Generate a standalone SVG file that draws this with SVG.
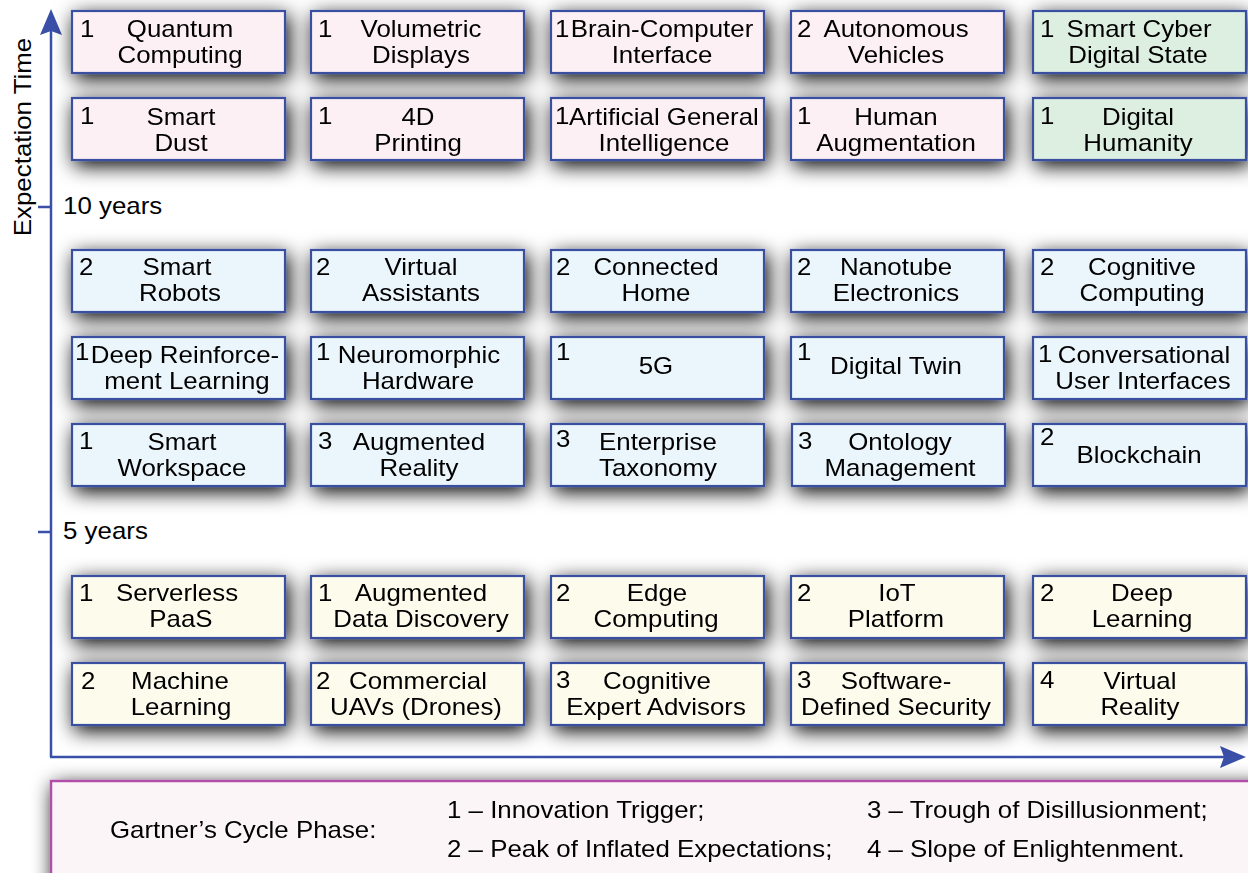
<svg xmlns="http://www.w3.org/2000/svg" width="1248" height="873" viewBox="0 0 1248 873">
<defs>
<filter id="sh" x="-25%" y="-60%" width="150%" height="230%">
<feGaussianBlur in="SourceAlpha" stdDeviation="10"/>
<feOffset dx="3" dy="5" result="b"/>
<feComponentTransfer><feFuncA type="linear" slope="1"/></feComponentTransfer>
<feMerge><feMergeNode/><feMergeNode in="SourceGraphic"/></feMerge>
</filter>
</defs>
<style>
text{font-family:"Liberation Sans",Arial,sans-serif;font-size:23px;fill:#000;transform-box:fill-box;transform-origin:left center;transform:scaleX(1.125)}
text.c{text-anchor:middle;transform-origin:center center}
.b rect{stroke:#3b4fa0;stroke-width:2.2}
.p rect{fill:#fdf0f4}
.g rect{fill:#dcefe0}
.u rect{fill:#eaf5fc}
.y rect{fill:#fcfbec}
.ax{stroke:#3a4fa8;stroke-width:2.5;fill:none}
</style>
<rect width="1248" height="873" fill="#ffffff"/>

<g id="axes">
<line class="ax" x1="51" y1="757" x2="51" y2="30"/>
<path d="M51,9 L62,35 L51,31 L40,35 Z" fill="#3a4fa8"/>
<line class="ax" x1="50" y1="757" x2="1225" y2="757"/>
<path d="M1246,757 L1220,746 L1224,757 L1220,768 Z" fill="#3a4fa8"/>
<line class="ax" x1="38" y1="207" x2="51" y2="207"/>
<line class="ax" x1="38" y1="532" x2="51" y2="532"/>
<g transform="translate(31 137) rotate(-90)"><text class="c" x="0" y="0">Expectation Time</text></g>
<text x="63" y="214">10 years</text>
<text x="63" y="539">5 years</text>
</g>

<g filter="url(#sh)">
<g id="n-quantum" class="b p"><rect x="72" y="11" width="213" height="62"/><text x="80" y="37">1</text><text class="c" x="180" y="37">Quantum</text><text class="c" x="180" y="63">Computing</text></g>
<g id="n-volumetric" class="b p"><rect x="311" y="11" width="213" height="62"/><text x="318" y="37">1</text><text class="c" x="421" y="37">Volumetric</text><text class="c" x="421" y="63">Displays</text></g>
<g id="n-bci" class="b p"><rect x="551" y="11" width="213" height="62"/><text x="555" y="37">1</text><text class="c" x="662" y="37">Brain-Computer</text><text class="c" x="662" y="63">Interface</text></g>
<g id="n-autonomous" class="b p"><rect x="791" y="11" width="213" height="62"/><text x="797" y="37">2</text><text class="c" x="896" y="37">Autonomous</text><text class="c" x="896" y="63">Vehicles</text></g>
<g id="n-smartcyber" class="b g"><rect x="1033" y="11" width="213" height="62"/><text x="1040" y="37">1</text><text class="c" x="1139" y="37">Smart Cyber</text><text class="c" x="1138" y="63">Digital State</text></g>

<g id="n-smartdust" class="b p"><rect x="72" y="98" width="213" height="62"/><text x="80" y="124">1</text><text class="c" x="181" y="125">Smart</text><text class="c" x="181" y="151">Dust</text></g>
<g id="n-4d" class="b p"><rect x="311" y="98" width="213" height="62"/><text x="318" y="124">1</text><text class="c" x="418" y="125">4D</text><text class="c" x="418" y="151">Printing</text></g>
<g id="n-agi" class="b p"><rect x="551" y="98" width="213" height="62"/><text x="555" y="124">1</text><text class="c" x="664" y="125">Artificial General</text><text class="c" x="664" y="151">Intelligence</text></g>
<g id="n-human" class="b p"><rect x="791" y="98" width="213" height="62"/><text x="797" y="124">1</text><text class="c" x="896" y="125">Human</text><text class="c" x="896" y="151">Augmentation</text></g>
<g id="n-humanity" class="b g"><rect x="1033" y="98" width="213" height="62"/><text x="1040" y="124">1</text><text class="c" x="1138" y="125">Digital</text><text class="c" x="1138" y="151">Humanity</text></g>

<g id="n-robots" class="b u"><rect x="72" y="250" width="213" height="62"/><text x="79" y="275">2</text><text class="c" x="177" y="275">Smart</text><text class="c" x="180" y="301">Robots</text></g>
<g id="n-assistants" class="b u"><rect x="311" y="250" width="213" height="62"/><text x="316" y="275">2</text><text class="c" x="421" y="275">Virtual</text><text class="c" x="421" y="301">Assistants</text></g>
<g id="n-home" class="b u"><rect x="551" y="250" width="213" height="62"/><text x="556" y="275">2</text><text class="c" x="656" y="275">Connected</text><text class="c" x="656" y="301">Home</text></g>
<g id="n-nanotube" class="b u"><rect x="791" y="250" width="213" height="62"/><text x="797" y="275">2</text><text class="c" x="896" y="275">Nanotube</text><text class="c" x="896" y="301">Electronics</text></g>
<g id="n-cognitive" class="b u"><rect x="1033" y="250" width="213" height="62"/><text x="1040" y="275">2</text><text class="c" x="1142" y="275">Cognitive</text><text class="c" x="1142" y="301">Computing</text></g>

<g id="n-drl" class="b u"><rect x="72" y="337" width="213" height="62"/><text x="75" y="360">1</text><text class="c" x="185" y="363">Deep Reinforce-</text><text class="c" x="187" y="389">ment Learning</text></g>
<g id="n-neuro" class="b u"><rect x="311" y="337" width="213" height="62"/><text x="316" y="360">1</text><text class="c" x="419" y="363">Neuromorphic</text><text class="c" x="418" y="389">Hardware</text></g>
<g id="n-5g" class="b u"><rect x="551" y="337" width="213" height="62"/><text x="556" y="360">1</text><text class="c" x="656" y="374">5G</text></g>
<g id="n-twin" class="b u"><rect x="791" y="337" width="213" height="62"/><text x="797" y="360">1</text><text class="c" x="896" y="374">Digital Twin</text></g>
<g id="n-cui" class="b u"><rect x="1033" y="337" width="213" height="62"/><text x="1038" y="362">1</text><text class="c" x="1144" y="363">Conversational</text><text class="c" x="1143" y="389">User Interfaces</text></g>

<g id="n-workspace" class="b u"><rect x="72" y="424" width="213" height="62"/><text x="79" y="449">1</text><text class="c" x="182" y="450">Smart</text><text class="c" x="182" y="476">Workspace</text></g>
<g id="n-ar" class="b u"><rect x="311" y="424" width="213" height="62"/><text x="318" y="449">3</text><text class="c" x="419" y="450">Augmented</text><text class="c" x="419" y="476">Reality</text></g>
<g id="n-taxonomy" class="b u"><rect x="551" y="424" width="213" height="62"/><text x="556" y="447">3</text><text class="c" x="658" y="450">Enterprise</text><text class="c" x="658" y="476">Taxonomy</text></g>
<g id="n-ontology" class="b u"><rect x="792" y="424" width="213" height="62"/><text x="798" y="449">3</text><text class="c" x="900" y="450">Ontology</text><text class="c" x="900" y="476">Management</text></g>
<g id="n-blockchain" class="b u"><rect x="1033" y="424" width="213" height="62"/><text x="1040" y="445">2</text><text class="c" x="1139" y="463">Blockchain</text></g>

<g id="n-serverless" class="b y"><rect x="72" y="576" width="213" height="62"/><text x="79" y="601">1</text><text class="c" x="177" y="601">Serverless</text><text class="c" x="181" y="627">PaaS</text></g>
<g id="n-add" class="b y"><rect x="311" y="576" width="213" height="62"/><text x="318" y="601">1</text><text class="c" x="421" y="601">Augmented</text><text class="c" x="421" y="627">Data Discovery</text></g>
<g id="n-edge" class="b y"><rect x="551" y="576" width="213" height="62"/><text x="556" y="601">2</text><text class="c" x="657" y="601">Edge</text><text class="c" x="656" y="627">Computing</text></g>
<g id="n-iot" class="b y"><rect x="791" y="576" width="213" height="62"/><text x="797" y="601">2</text><text class="c" x="897" y="601">IoT</text><text class="c" x="896" y="627">Platform</text></g>
<g id="n-dl" class="b y"><rect x="1033" y="576" width="213" height="62"/><text x="1040" y="601">2</text><text class="c" x="1142" y="601">Deep</text><text class="c" x="1142" y="627">Learning</text></g>

<g id="n-ml" class="b y"><rect x="72" y="663" width="213" height="62"/><text x="81" y="689">2</text><text class="c" x="180" y="689">Machine</text><text class="c" x="181" y="715">Learning</text></g>
<g id="n-uav" class="b y"><rect x="311" y="663" width="213" height="62"/><text x="316" y="689">2</text><text class="c" x="418" y="689">Commercial</text><text class="c" x="416" y="715">UAVs (Drones)</text></g>
<g id="n-cea" class="b y"><rect x="551" y="663" width="213" height="62"/><text x="556" y="688">3</text><text class="c" x="657" y="689">Cognitive</text><text class="c" x="656" y="715">Expert Advisors</text></g>
<g id="n-sds" class="b y"><rect x="791" y="663" width="213" height="62"/><text x="797" y="688">3</text><text class="c" x="896" y="689">Software-</text><text class="c" x="896" y="715">Defined Security</text></g>
<g id="n-vr" class="b y"><rect x="1033" y="663" width="213" height="62"/><text x="1040" y="688">4</text><text class="c" x="1140" y="689">Virtual</text><text class="c" x="1140" y="715">Reality</text></g>
</g>

<g id="legend">
<rect x="51" y="781" width="1210" height="110" fill="#fcf5f8" stroke="#b050a8" stroke-width="2.5" filter="url(#sh)"/>
<text x="110" y="838">Gartner’s Cycle Phase:</text>
<text x="447" y="818">1 – Innovation Trigger;</text>
<text x="447" y="857">2 – Peak of Inflated Expectations;</text>
<text x="867" y="818">3 – Trough of Disillusionment;</text>
<text x="867" y="857">4 – Slope of Enlightenment.</text>
</g>
</svg>
